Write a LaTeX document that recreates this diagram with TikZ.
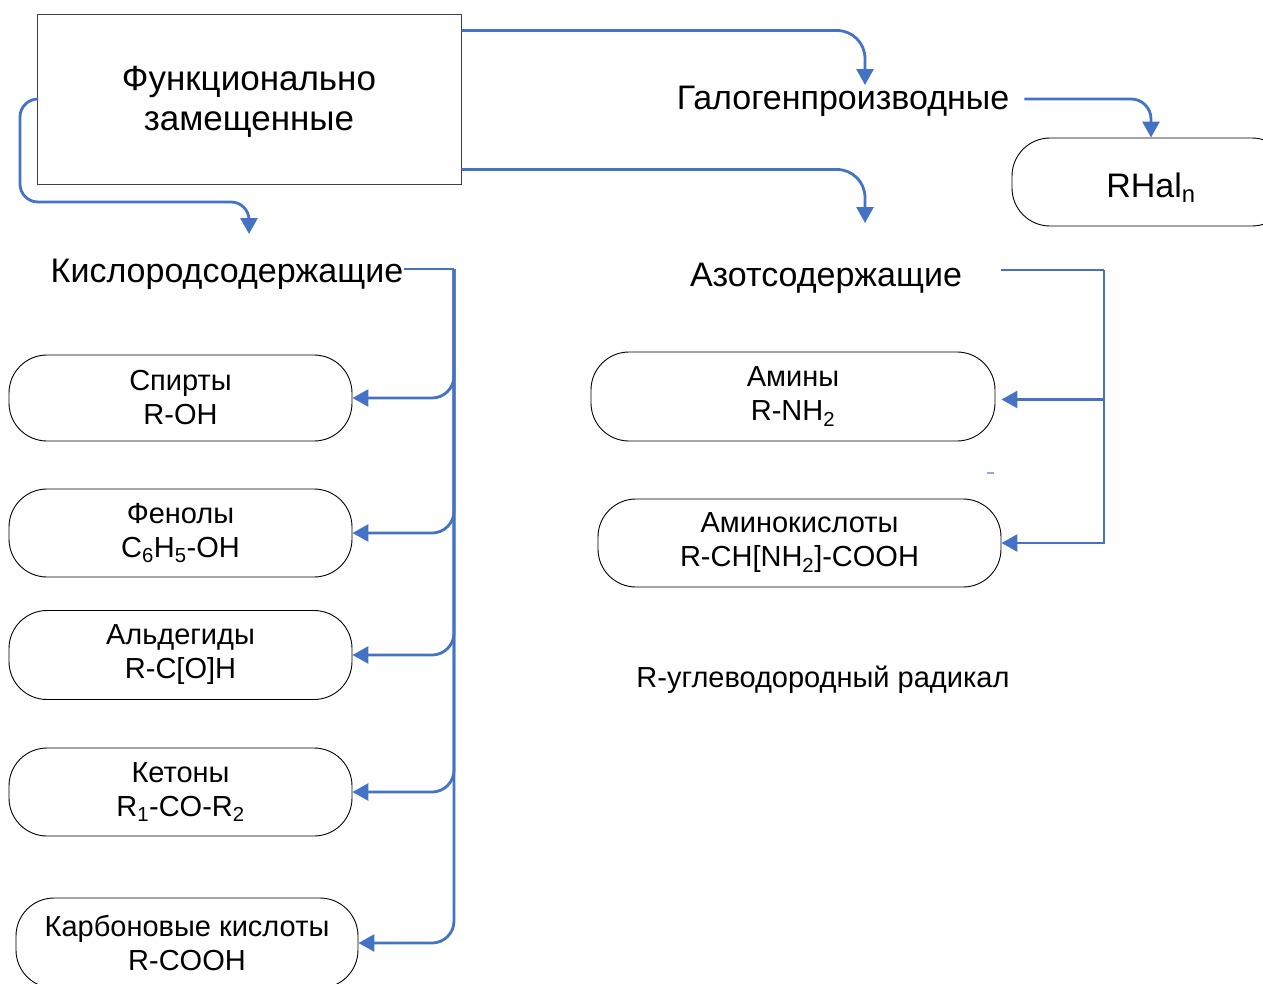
\documentclass[tikz,border=0pt]{standalone}
\usepackage{fontspec}
\setmainfont{Liberation Sans}
\usetikzlibrary{arrows.meta}
\definecolor{connblue}{HTML}{4472C4}
\begin{document}
\begin{tikzpicture}[x=1pt,y=-1pt,
  line/.style={draw=connblue, line width=2.8pt},
  conn/.style={line, -{Triangle[width=17pt,length=16pt]}},
  rbox/.style={draw=black, line width=0.9pt, rounded corners=38pt, align=center,
    font=\fontsize{29}{34}\selectfont, inner sep=0pt},
  lbl/.style={font=\fontsize{34}{40}\selectfont, inner sep=1pt, align=center}]
\useasboundingbox (0,0) rectangle (1263,983);

% main box
\node[draw=black!75, line width=1pt, minimum width=424pt, minimum height=170pt,
  lbl, font=\fontsize{35}{40}\selectfont] (main) at (249,99) {\rule{0pt}{29pt}Функционально\\замещенные};

% level-2 labels
\node[lbl] (kis) at (227,274) {Кислородсодержащие};
\node[lbl] (galo) at (843,101) {Галогенпроизводные};
\node[lbl] (azot) at (826,278) {Азотсодержащие};

% boxes
\node[rbox, minimum width=343pt, minimum height=86pt] (sp) at (180.5,398) {Спирты\\R-OH};
\node[rbox, minimum width=343pt, minimum height=88pt] (fe) at (180.5,533) {Фенолы\\C\textsubscript{6}H\textsubscript{5}-OH};
\node[rbox, minimum width=343pt, minimum height=89pt] (al) at (180.5,655) {Альдегиды\\R-C[O]H};
\node[rbox, minimum width=343pt, minimum height=88pt] (ke) at (180.5,792) {Кетоны\\R\textsubscript{1}-CO-R\textsubscript{2}};
\node[rbox, minimum width=342pt, minimum height=90pt] (kb) at (187,943) {Карбоновые кислоты\\R-COOH};

\node[rbox, minimum width=404pt, minimum height=89pt] (am) at (793,396.5) {Амины\\R-NH\textsubscript{2}};
\node[rbox, minimum width=403pt, minimum height=88pt] (ak) at (799.5,543) {Аминокислоты\\R-CH[NH\textsubscript{2}]-COOH};

\node[rbox, minimum width=278pt, minimum height=88pt, font=\fontsize{34}{40}\selectfont] (rh) at (1151,182) {\rule{0pt}{36pt}RHal\textsubscript{n}};

\node[font=\fontsize{29}{32}\selectfont, inner sep=1pt] (note) at (823,680) {R-углеводородный радикал};

% arrow targets / junctions
\coordinate (gt) at (865,85);
\coordinate (azt) at (865,223);
\coordinate (kt0) at (249,234);
\coordinate (kt) at (454,269);
\coordinate (at) at (1104,270);

% connectors from main box
\draw[conn, rounded corners=28pt] ([yshift=-17pt]main.north east) -| (gt);
\draw[conn, rounded corners=28pt] ([yshift=15pt]main.south east) -| (azt);
\draw[conn, rounded corners=18pt] (main.west) -- (20,99) -- (20,202) -- (249,202) -- (kt0);
\draw[conn, rounded corners=20pt] ([xshift=14pt]galo.east |- 0,99) -| (rh.north);

% oxygen branch
\draw[line] (kis.east |- kt) -- (kt);
\foreach \b in {sp,fe,al,ke,kb}
  \draw[conn, rounded corners=22pt] (kt) |- (\b.east);

% nitrogen branch
\draw[line] ([xshift=38pt]azot.east |- at) -- (at);
\draw[conn] (at) |- ([shift={(6pt,-3pt)}]am.east);
\draw[conn] (at) |- (ak.east);

% small stray mark
\draw[draw=connblue!60, line width=1.2pt] (987,473) -- (994,473);
\end{tikzpicture}
\end{document}
